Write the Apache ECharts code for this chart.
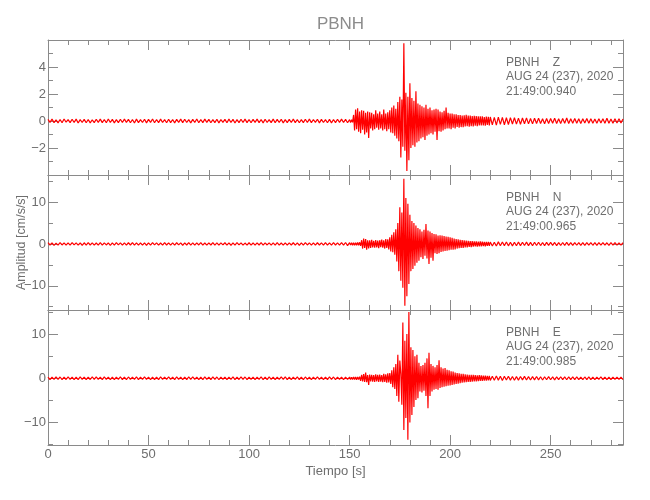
<!DOCTYPE html>
<html><head><meta charset="utf-8">
<script src="https://cdn.jsdelivr.net/npm/echarts@6/dist/echarts.min.js"></script>
<style>html,body{margin:0;padding:0;background:#fff}#c{width:650px;height:500px}</style>
</head><body><div id="c"></div>
<script>
const chartTitle = 'PBNH';
const xAxisName = 'Tiempo [s]';
const yAxisName = 'Amplitud [cm/s/s]';
const stationText = [
  'PBNH    Z\nAUG 24 (237), 2020\n21:49:00.940',
  'PBNH    N\nAUG 24 (237), 2020\n21:49:00.965',
  'PBNH    E\nAUG 24 (237), 2020\n21:49:00.985'
];
const xRange = [0, 286];
const xTickStep = 50;
const yRanges = [[-4, 6], [-15.8, 16.5], [-15.1, 15.45]];
const yTickSteps = [2, 10, 10];
const ySplitNumbers = [5, 3, 3];

// sampling grid of the traces: 1 s before 150 s, 0.5 s from 150 to 220 s, 1 s after
const preStart = 0, preStep = 1;
const eventStart = 150, eventStep = 0.5;
const postStart = 220, postStep = 1;

// ---- Z component ----
const zPre = [
0.12,-0.10,0.14,-0.12,0.09,-0.14,0.11,-0.13,0.15,-0.09,
0.10,-0.12,0.13,-0.11,0.14,-0.15,0.10,-0.11,0.12,-0.13,
0.11,-0.14,0.09,-0.12,0.13,-0.10,0.14,-0.12,0.11,-0.13,
0.15,-0.11,0.12,-0.14,0.10,-0.12,0.13,-0.11,0.14,-0.10,
0.12,-0.13,0.11,-0.15,0.14,-0.12,0.10,-0.11,0.13,-0.14,
0.12,-0.10,0.15,-0.13,0.11,-0.12,0.14,-0.11,0.10,-0.13,
0.13,-0.12,0.11,-0.14,0.12,-0.10,0.14,-0.12,0.13,-0.11,
0.10,-0.14,0.12,-0.11,0.15,-0.13,0.11,-0.12,0.14,-0.10,
0.12,-0.13,0.10,-0.12,0.13,-0.14,0.11,-0.10,0.12,-0.13,
0.14,-0.11,0.12,-0.15,0.10,-0.12,0.13,-0.11,0.14,-0.12,
0.11,-0.13,0.12,-0.10,0.14,-0.12,0.11,-0.14,0.13,-0.11,
0.10,-0.12,0.14,-0.13,0.12,-0.11,0.13,-0.14,0.10,-0.12,
0.12,-0.11,0.14,-0.12,0.11,-0.13,0.10,-0.12,0.13,-0.11,
0.14,-0.12,0.11,-0.10,0.13,-0.14,0.12,-0.11,0.10,-0.13,
0.12,-0.14,0.11,-0.12,0.13,-0.10,0.14,-0.11,0.12,-0.13
];
const zEvent = [
0.10,-0.12,0.09,-0.10,0.45,-0.70,0.85,-0.60,0.95,-0.80,
0.70,-0.90,0.80,-0.65,0.75,-1.00,0.60,-0.85,0.70,-1.25,
0.65,-0.55,0.60,-0.70,0.50,-0.60,0.80,-0.50,0.55,-0.65,
0.70,-0.55,0.50,-0.70,0.85,-0.60,0.55,-0.75,0.65,-0.60,
0.80,-0.85,1.00,-0.90,1.15,-1.10,0.90,-1.30,1.40,-1.50,
1.80,-2.70,1.60,-1.90,5.75,-2.20,2.10,-3.70,1.80,-2.90,
2.80,-2.00,1.70,-1.80,1.50,-1.90,2.20,-1.60,1.30,-1.50,
1.20,-1.30,1.10,-1.20,1.00,-1.40,1.20,-1.10,0.90,-1.00,
1.00,-0.90,0.80,-1.00,0.85,-0.80,0.90,-1.40,0.85,-0.75,
0.70,-0.80,0.65,-0.70,0.75,-0.60,1.00,-0.55,0.60,-0.55,
0.55,-0.60,0.55,-0.50,0.50,-0.55,0.50,-0.45,0.45,-0.50,
0.45,-0.45,0.40,-0.45,0.42,-0.40,0.45,-0.38,0.40,-0.42,
0.40,-0.38,0.36,-0.40,0.38,-0.35,0.36,-0.38,0.35,-0.33,
0.34,-0.32,0.35,-0.33,0.30,-0.34,0.33,-0.30,0.31,-0.32
];
const zPost = [
0.30,-0.28,0.27,-0.30,0.28,-0.25,0.27,-0.28,0.24,-0.26,
0.25,-0.22,0.24,-0.23,0.21,-0.24,0.22,-0.20,0.23,-0.21,
0.19,-0.21,0.20,-0.18,0.21,-0.19,0.17,-0.20,0.19,-0.18,
0.18,-0.17,0.20,-0.18,0.16,-0.19,0.18,-0.17,0.22,-0.18,
0.17,-0.16,0.18,-0.17,0.16,-0.18,0.17,-0.15,0.18,-0.16,
0.16,-0.17,0.15,-0.16,0.17,-0.15,0.16,-0.17,0.20,-0.16,
0.15,-0.16,0.17,-0.15,0.16,-0.14,0.15
];

// ---- N component ----
const nPre = [
0.30,-0.25,0.28,-0.32,0.22,-0.28,0.33,-0.24,0.27,-0.30,
0.25,-0.29,0.31,-0.23,0.28,-0.26,0.24,-0.31,0.29,-0.27,
0.32,-0.25,0.26,-0.30,0.23,-0.28,0.30,-0.26,0.28,-0.24,
0.27,-0.32,0.25,-0.28,0.31,-0.23,0.26,-0.29,0.24,-0.27,
0.29,-0.25,0.33,-0.28,0.26,-0.30,0.24,-0.26,0.28,-0.31,
0.25,-0.27,0.30,-0.24,0.28,-0.29,0.23,-0.26,0.31,-0.25,
0.27,-0.30,0.24,-0.28,0.29,-0.23,0.26,-0.31,0.28,-0.25,
0.30,-0.26,0.25,-0.29,0.27,-0.24,0.32,-0.28,0.23,-0.27,
0.28,-0.25,0.30,-0.27,0.24,-0.30,0.26,-0.23,0.29,-0.28,
0.25,-0.31,0.27,-0.26,0.30,-0.24,0.28,-0.29,0.22,-0.27,
0.29,-0.26,0.24,-0.30,0.27,-0.25,0.31,-0.28,0.26,-0.24,
0.28,-0.27,0.25,-0.29,0.30,-0.26,0.23,-0.28,0.27,-0.30,
0.26,-0.25,0.29,-0.27,0.24,-0.31,0.28,-0.26,0.30,-0.24,
0.25,-0.28,0.27,-0.30,0.29,-0.25,0.26,-0.27,0.31,-0.29,
0.28,-0.26,0.30,-0.25,0.27,-0.28,0.32,-0.30,0.35,-0.40
];
const nEvent = [
0.30,-0.28,0.32,-0.30,0.28,-0.33,0.30,-0.29,0.35,-0.32,
0.40,-0.45,0.90,-1.10,1.30,-0.95,1.15,-1.35,0.90,-1.05,
0.85,-0.95,1.00,-0.80,0.75,-0.90,0.95,-0.85,0.80,-1.00,
0.90,-0.75,1.05,-0.90,0.85,-1.10,1.20,-0.95,1.10,-1.30,
1.60,-1.80,2.20,-2.00,2.80,-2.60,3.50,-4.20,5.00,-6.50,
8.80,-8.80,7.50,-10.50,15.60,-14.80,11.00,-12.50,9.60,-9.60,
7.00,-6.50,5.50,-6.00,5.00,-5.20,4.40,-4.50,3.80,-4.00,
3.50,-3.20,3.00,-3.60,3.40,-2.80,4.80,-3.50,3.20,-4.80,
3.00,-3.30,2.60,-4.00,2.40,-2.20,2.30,-2.40,2.00,-2.20,
2.10,-1.90,2.00,-1.80,1.90,-1.70,1.80,-1.60,1.70,-1.50,
1.60,-1.40,1.50,-1.40,1.30,-1.30,1.20,-1.10,1.10,-1.00,
1.00,-0.95,0.90,-0.95,0.85,-0.80,0.80,-0.85,0.75,-0.70,
0.70,-0.75,0.70,-0.65,0.65,-0.60,0.60,-0.65,0.55,-0.60,
0.60,-0.55,0.55,-0.50,0.50,-0.55,0.50,-0.45,0.50,-0.45
];
const nPost = [
0.45,-0.50,0.42,-0.48,0.50,-0.44,0.46,-0.40,0.48,-0.45,
0.42,-0.46,0.40,-0.44,0.45,-0.40,0.42,-0.38,0.44,-0.40,
0.38,-0.42,0.40,-0.36,0.41,-0.38,0.36,-0.40,0.38,-0.35,
0.37,-0.34,0.36,-0.38,0.33,-0.36,0.35,-0.32,0.36,-0.34,
0.32,-0.35,0.34,-0.31,0.33,-0.35,0.31,-0.33,0.34,-0.30,
0.32,-0.31,0.30,-0.33,0.31,-0.29,0.32,-0.30,0.29,-0.31,
0.30,-0.28,0.31,-0.29,0.28,-0.30,0.29
];

// ---- E component ----
const ePre = [
0.28,-0.32,0.25,-0.27,0.31,-0.24,0.29,-0.30,0.26,-0.28,
0.33,-0.25,0.27,-0.31,0.24,-0.29,0.30,-0.26,0.28,-0.33,
0.25,-0.28,0.32,-0.27,0.29,-0.24,0.26,-0.30,0.31,-0.25,
0.28,-0.29,0.24,-0.32,0.27,-0.26,0.30,-0.28,0.25,-0.31,
0.29,-0.27,0.26,-0.24,0.32,-0.29,0.28,-0.25,0.31,-0.27,
0.24,-0.30,0.27,-0.28,0.25,-0.32,0.30,-0.26,0.28,-0.24,
0.31,-0.27,0.26,-0.29,0.33,-0.25,0.27,-0.30,0.24,-0.28,
0.29,-0.26,0.32,-0.24,0.27,-0.31,0.25,-0.29,0.30,-0.27,
0.26,-0.28,0.31,-0.25,0.29,-0.33,0.24,-0.27,0.28,-0.30,
0.27,-0.24,0.30,-0.29,0.25,-0.28,0.32,-0.26,0.29,-0.31,
0.24,-0.27,0.28,-0.30,0.26,-0.25,0.31,-0.28,0.27,-0.29,
0.30,-0.26,0.25,-0.32,0.28,-0.24,0.29,-0.27,0.33,-0.30,
0.26,-0.29,0.27,-0.25,0.30,-0.28,0.24,-0.31,0.29,-0.26,
0.28,-0.30,0.25,-0.27,0.31,-0.24,0.27,-0.29,0.26,-0.28,
0.30,-0.25,0.29,-0.31,0.27,-0.26,0.28,-0.30,0.25,-0.27
];
const eEvent = [
0.28,-0.30,0.26,-0.29,0.31,-0.27,0.29,-0.32,0.30,-0.28,
0.35,-0.60,0.80,-0.70,0.95,-0.85,1.30,-0.90,0.75,-1.50,
0.85,-0.70,0.80,-0.75,0.70,-0.85,0.90,-0.70,0.75,-0.80,
0.85,-0.75,0.70,-0.90,1.00,-0.80,0.90,-1.00,1.10,-0.95,
1.20,-1.30,1.80,-2.00,2.50,-2.40,3.20,-4.00,5.30,-5.30,
4.00,1.00,-6.00,12.60,-11.70,8.50,-9.00,10.00,-13.90,15.00,
-10.00,7.00,-8.30,6.40,-6.50,5.00,-4.90,5.30,-4.50,3.50,
-3.00,2.80,-3.20,3.00,-2.80,3.50,-4.00,4.50,-6.80,5.80,
-4.00,3.20,-3.00,2.80,-2.60,2.50,-2.40,3.00,-2.60,4.10,
-2.20,2.50,-2.00,2.20,-1.90,2.30,-1.80,1.90,-1.70,1.80,
-1.60,1.60,-1.50,1.50,-1.40,1.30,-1.30,1.20,-1.20,1.10,
-1.10,1.00,-1.00,1.00,-0.95,0.90,-0.90,0.85,-0.85,0.80,
-0.80,0.80,-0.75,0.75,-0.70,0.70,-0.70,0.65,-0.65,0.70,
-0.60,0.65,-0.60,0.60,-0.55,0.60,-0.55,0.55,-0.50,0.55
];
const ePost = [
-0.50,0.48,-0.45,0.50,-0.42,0.46,-0.48,0.44,-0.40,0.45,
-0.42,0.40,-0.44,0.38,-0.41,0.40,-0.37,0.42,-0.38,0.36,
-0.40,0.37,-0.35,0.39,-0.36,0.34,-0.38,0.35,-0.33,0.36,
-0.34,0.32,-0.35,0.33,-0.31,0.34,-0.32,0.30,-0.33,0.31,
-0.30,0.32,-0.29,0.31,-0.30,0.28,-0.31,0.29,-0.28,0.30,
-0.29,0.27,-0.30,0.28,-0.27,0.29,-0.28,0.26,-0.29,0.27,
-0.28,0.26,-0.27,0.28,-0.26,0.27,-0.28
];

function buildTrace(pre, ev, post) {
  const d = [];
  pre.forEach((v, i) => d.push([preStart + i * preStep, v]));
  ev.forEach((v, i) => d.push([eventStart + i * eventStep, v]));
  post.forEach((v, i) => d.push([postStart + i * postStep, v]));
  return d;
}
const traces = [
  buildTrace(zPre, zEvent, zPost),
  buildTrace(nPre, nEvent, nPost),
  buildTrace(ePre, eEvent, ePost)
];

const FONT = '"Liberation Sans", Arial, sans-serif';
const AXIS_COLOR = '#8a8a8a';
const TEXT_COLOR = '#6e6e6e';
const gridLeft = 48, gridWidth = 575, gridTop0 = 40, gridH = 135;

const grids = [], xAxes = [], yAxes = [], series = [], graphics = [];
const axLine = { show: true, onZero: false, lineStyle: { color: AXIS_COLOR, width: 1 } };
const tickStyle = { color: AXIS_COLOR, width: 1 };

for (let k = 0; k < 3; k++) {
  const top = gridTop0 + k * gridH;
  grids.push({ left: gridLeft, top: top, width: gridWidth, height: gridH, containLabel: false });
  const isLast = k === 2;
  const xBase = {
    gridIndex: k, type: 'value', min: xRange[0], max: xRange[1], interval: xTickStep,
    axisLine: axLine,
    axisTick: { show: true, inside: true, length: 10, lineStyle: tickStyle },
    minorTick: { show: true, splitNumber: 5, length: 5, lineStyle: tickStyle },
    splitLine: { show: false }, minorSplitLine: { show: false }
  };
  xAxes.push(Object.assign({}, xBase, {
    position: 'bottom',
    axisLabel: {
      show: isLast, margin: 3, color: TEXT_COLOR, fontSize: 13, fontFamily: FONT,
      showMaxLabel: false
    },
    name: isLast ? xAxisName : '', nameLocation: 'middle', nameGap: 20,
    nameMoveOverlap: false,
    nameTextStyle: { color: TEXT_COLOR, fontSize: 13, fontFamily: FONT }
  }));
  xAxes.push(Object.assign({}, xBase, { position: 'top', axisLabel: { show: false } }));

  const [ymin, ymax] = yRanges[k];
  const step = yTickSteps[k];
  const yBase = {
    gridIndex: k, type: 'value', min: ymin, max: ymax, splitNumber: ySplitNumbers[k],
    axisLine: axLine,
    axisTick: { show: true, inside: true, length: 10, lineStyle: tickStyle },
    minorTick: { show: true, splitNumber: 2, length: 5, lineStyle: tickStyle },
    splitLine: { show: false }, minorSplitLine: { show: false }
  };
  yAxes.push(Object.assign({}, yBase, {
    position: 'left',
    axisLabel: {
      show: true, margin: 2, color: TEXT_COLOR, fontSize: 13, fontFamily: FONT,
      formatter: function (v) {
        const r = v / step;
        if (Math.abs(r - Math.round(r)) > 1e-6) return '';
        if (v <= ymin + 1e-9 || v >= ymax - 1e-9) return '';
        return v < 0 ? '\u2212' + Math.abs(v) : String(v);
      }
    },
    name: k === 1 ? yAxisName : '', nameLocation: 'middle', nameGap: 20,
    nameMoveOverlap: false,
    nameTextStyle: { color: TEXT_COLOR, fontSize: 12.5, fontFamily: FONT }
  }));
  yAxes.push(Object.assign({}, yBase, { position: 'right', axisLabel: { show: false } }));

  series.push({
    type: 'line', xAxisIndex: 2 * k, yAxisIndex: 2 * k, data: traces[k],
    showSymbol: false, symbol: 'none', silent: true,
    lineStyle: { color: '#ff0000', width: 1.2 }, clip: true
  });

  graphics.push({
    type: 'text', x: 506, y: top + 15,
    style: {
      text: stationText[k], fill: TEXT_COLOR, fontSize: 12, fontFamily: FONT,
      lineHeight: 14.5, verticalAlign: 'top', align: 'left'
    }
  });
}

const chart = echarts.init(document.getElementById('c'), null, { renderer: 'canvas' });
chart.setOption({
  animation: false,
  backgroundColor: '#ffffff',
  title: {
    text: chartTitle, left: 335.5, top: 11, textAlign: 'center',
    textStyle: { color: '#8c8c8c', fontSize: 17, fontWeight: 'normal', fontFamily: FONT }
  },
  grid: grids, xAxis: xAxes, yAxis: yAxes, series: series, graphic: graphics
});
</script></body></html>
